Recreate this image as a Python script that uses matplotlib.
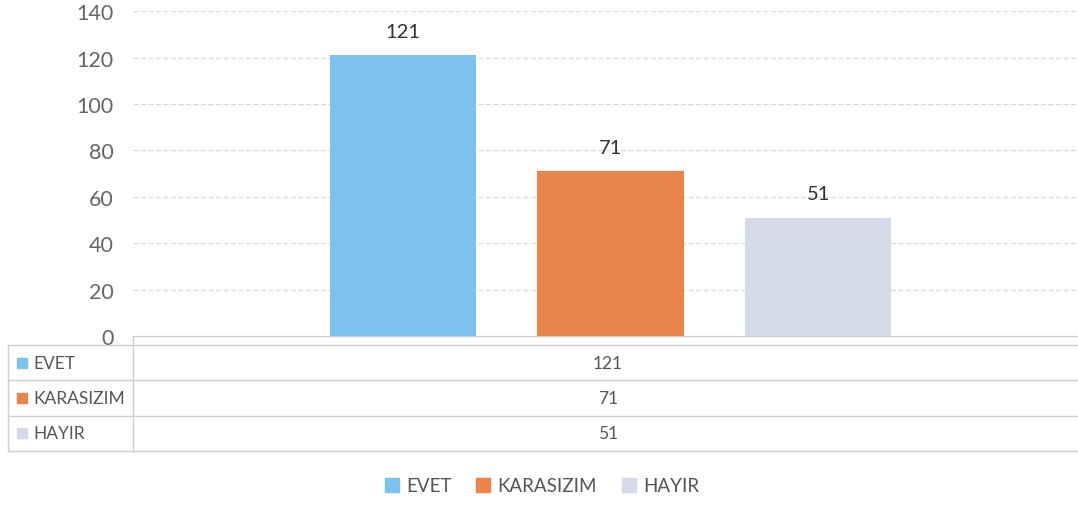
#!/usr/bin/env python3
# -*- coding: utf-8 -*-
"""Bar chart with Excel-style data table: EVET / KARASIZIM / HAYIR."""
import matplotlib
matplotlib.use("Agg")
import matplotlib.pyplot as plt
from matplotlib.patches import Patch, Rectangle

SERIES = ["EVET", "KARASIZIM", "HAYIR"]
VALUES = [121, 71, 51]
COLORS = ["#7dc1ee", "#e8844c", "#d6d9e8"]
YTICKS = [0, 20, 40, 60, 80, 100, 120, 140]

plt.rcParams["font.family"] = ["Lato", "DejaVu Sans"]
W, H = 1078, 506
fig = plt.figure(figsize=(W / 100, H / 100), dpi=100)

# -- plot area (pixels -> figure fraction); right edge runs past the crop --
ax_l, ax_r, ax_t, ax_b = 133, 1088, 12.3, 337
ax = fig.add_axes([ax_l / W, 1 - ax_b / H, (ax_r - ax_l) / W, (ax_b - ax_t) / H])

n = len(SERIES)
bw, step = 0.153, 0.2175         # bar width / distance between bars (one category)
xs = [(i - (n - 1) / 2) * step for i in range(n)]
for x, v, c, s in zip(xs, VALUES, COLORS, SERIES):
    b = ax.bar(x, v, width=bw, color=c, label=s, zorder=3)
    ax.bar_label(b, padding=11, fontsize=14.5, color="#333333")

ax.set_xlim(-0.5, 0.5)
ax.set_ylim(YTICKS[0], YTICKS[-1])
ax.set_yticks(YTICKS)
ax.set_xticks([])
ax.tick_params(axis="y", length=0, pad=14, labelsize=15.5, labelcolor="#666666")
ax.grid(axis="y", color="#d8d8d8", lw=0.9, ls=(0, (4, 2)), zorder=0)
for sp in ["top", "right", "left"]:
    ax.spines[sp].set_visible(False)
ax.spines["bottom"].set_color("#c8c8c8")

# -- data table below the plot --
tb = fig.add_axes([0, 0, 1, 1], zorder=-1)
tb.set_xlim(0, W); tb.set_ylim(H, 0); tb.axis("off")
t_left, t_top, row_h = 8, 346, 35.3
lc = "#cfcfcf"
col_center = 608
for i, (s, v, c) in enumerate(zip(SERIES, VALUES, COLORS)):
    y0 = t_top + i * row_h
    tb.plot([t_left, W], [y0, y0], color=lc, lw=1)
    tb.add_patch(Rectangle((17, y0 + row_h / 2 - 5), 10, 10, color=c))
    tb.text(33, y0 + row_h / 2, s, va="center", ha="left", fontsize=12.5, color="#555555")
    tb.text(col_center, y0 + row_h / 2, str(v), va="center", ha="center", fontsize=12.5, color="#555555")
t_bot = t_top + n * row_h
tb.plot([t_left, W], [t_bot, t_bot], color=lc, lw=1)
tb.plot([t_left, t_left], [t_top, t_bot], color=lc, lw=1)
tb.plot([ax_l, ax_l], [ax_b, t_bot], color=lc, lw=1)

# -- legend --
handles = [Patch(color=c, label=s) for s, c in zip(SERIES, COLORS)]
fig.legend(handles=handles, loc="center", bbox_to_anchor=(542 / W, 1 - 487 / H),
           ncol=n, frameon=False, fontsize=13.5, handlelength=0.75, handleheight=0.75,
           handletextpad=0.4, columnspacing=1.3, labelcolor="#555555")

fig.savefig("out.png", dpi=100)
